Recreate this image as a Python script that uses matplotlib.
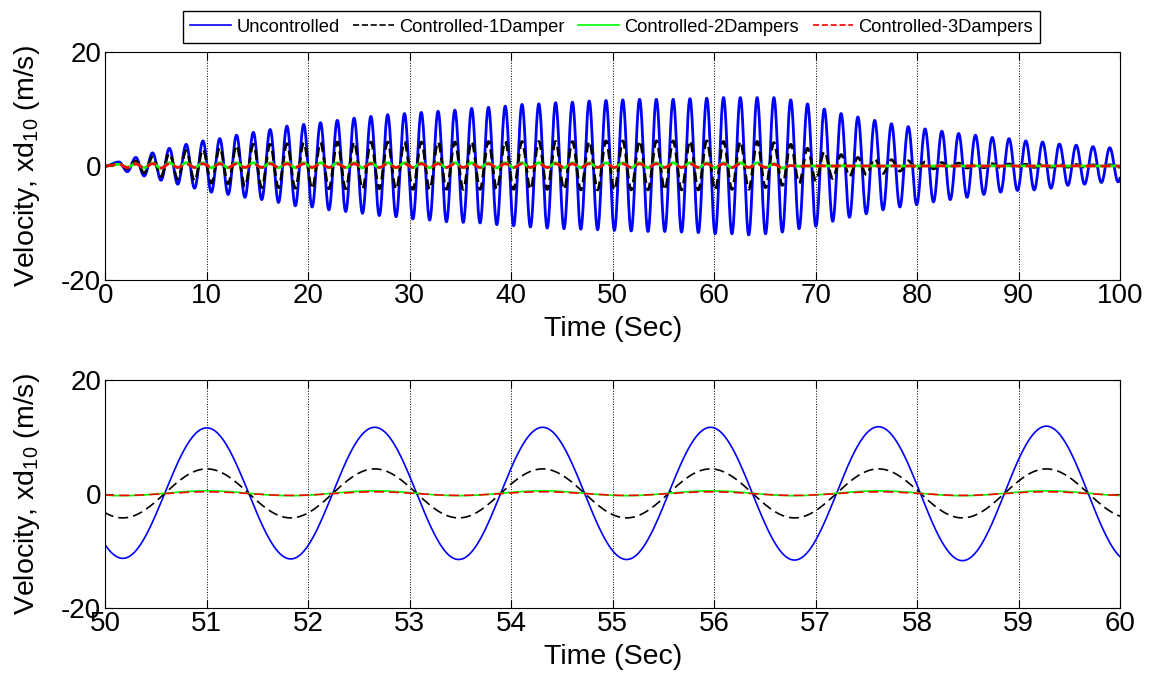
import numpy as np
import matplotlib
matplotlib.use('Agg')
import matplotlib.pyplot as plt
from matplotlib.ticker import MultipleLocator

# ---- data ----
# one oscillation period (s), time of a reference peak (s)
period = 1.655
t_peak0 = 1.35
t_end = 100.0

# peak values, one per cycle (peak times t_peak0 + k*period, k = 0..60)
blue_peaks = [0.7, 1.5, 2.3, 3.1, 3.8, 4.4, 4.8, 5.4, 5.9, 6.4,
              7.0, 7.3, 7.6, 8.0, 8.4, 8.7, 9.0, 9.2, 9.4, 9.6,
              9.8, 10.1, 10.3, 10.5, 10.8, 10.9, 11.1, 11.2, 11.4, 11.5,
              11.6, 11.7, 11.7, 11.7, 11.8, 11.9, 12.0, 12.0, 12.0, 12.0,
              11.6, 10.9, 10.0, 9.2, 8.6, 8.0, 7.4, 6.9, 6.5, 6.1,
              5.7, 5.4, 5.0, 4.8, 4.4, 4.2, 3.85, 3.65, 3.4, 3.2,
              3.0]
# trough values, one per cycle (half a period after each peak, k = 0..59)
blue_troughs = [-1.0, -1.75, -2.5, -3.2, -3.9, -4.6, -5.0, -5.5, -5.9, -6.4,
                -7.0, -7.2, -7.7, -8.0, -8.3, -8.7, -8.9, -9.3, -9.5, -9.8,
                -9.9, -10.0, -10.3, -10.5, -10.7, -10.9, -11.0, -11.1, -11.2, -11.3,
                -11.4, -11.5, -11.5, -11.6, -11.7, -11.9, -11.9, -12.1, -11.9, -11.6,
                -11.0, -10.6, -9.7, -9.0, -8.4, -7.7, -7.2, -6.8, -6.3, -5.9,
                -5.5, -5.0, -4.6, -4.3, -4.2, -3.9, -3.4, -3.2, -2.9, -2.8]

black_peaks = [0.4, 0.9, 1.6, 2.2, 2.7, 2.9, 3.2, 3.6, 3.8, 3.8,
               3.9, 4.1, 4.1, 4.2, 4.2, 4.2, 4.2, 4.2, 4.2, 4.2,
               4.2, 4.3, 4.3, 4.3, 4.3, 4.3, 4.3, 4.3, 4.3, 4.4,
               4.4, 4.4, 4.4, 4.4, 4.4, 4.4, 4.3, 4.3, 4.3, 4.1,
               3.8, 3.1, 2.5, 2.0, 1.5, 1.25, 1.1, 0.9, 0.7, 0.6,
               0.5, 0.45, 0.4, 0.35, 0.3, 0.3, 0.25, 0.25, 0.2, 0.2,
               0.2]
black_troughs = [-0.5, -1.2, -1.8, -2.3, -2.6, -3.0, -3.1, -3.6, -3.8, -3.8,
                 -3.9, -4.0, -4.0, -4.0, -4.0, -4.0, -4.1, -4.1, -4.1, -4.1,
                 -4.1, -4.1, -4.1, -4.1, -4.1, -4.1, -4.1, -4.2, -4.2, -4.2,
                 -4.2, -4.2, -4.2, -4.2, -4.2, -4.2, -4.1, -4.1, -3.8, -3.4,
                 -3.0, -2.6, -2.2, -1.8, -1.5, -1.3, -0.9, -0.65, -0.5, -0.4,
                 -0.35, -0.3, -0.25, -0.25, -0.25, -0.2, -0.2, -0.2, -0.2, -0.2]

green_peaks = [0.3, 0.4, 0.5] + [0.55] * 36 + [0.4, 0.1] + [0.03] * 20
green_troughs = [-0.2, -0.3, -0.4] + [-0.3] * 36 + [-0.35, -0.05] + [-0.02] * 19

red_peaks = [0.3, 0.35, 0.4] + [0.38] * 36 + [0.3, 0.05] + [0.02] * 20
red_troughs = [-0.3, -0.35, -0.35] + [-0.25] * 36 + [-0.3, -0.05] + [-0.02] * 19

labels = ['Uncontrolled', 'Controlled-1Damper', 'Controlled-2Dampers', 'Controlled-3Dampers']
colors = ['#0000FF', '#000000', '#00FF00', '#FF0000']
styles = ['-', '--', '-', '--']


def build_curve(peaks, troughs, t):
    # alternate peak / trough and join them with half cosine arcs
    ts = [0.0]
    vs = [0.0]
    for k in range(len(peaks)):
        ts.append(t_peak0 + k * period)
        vs.append(peaks[k])
        if k < len(troughs):
            ts.append(t_peak0 + k * period + period / 2)
            vs.append(troughs[k])
    ts = np.array(ts)
    vs = np.array(vs)
    idx = np.clip(np.searchsorted(ts, t, side='right') - 1, 0, len(ts) - 2)
    f = (t - ts[idx]) / (ts[idx + 1] - ts[idx])
    w = (1 - np.cos(np.pi * f)) / 2
    return vs[idx] + (vs[idx + 1] - vs[idx]) * w


t = np.arange(0, t_end + 0.005, 0.01)
series = [build_curve(blue_peaks, blue_troughs, t),
          build_curve(black_peaks, black_troughs, t),
          build_curve(green_peaks, green_troughs, t),
          build_curve(red_peaks, red_troughs, t)]

plt.rcParams['font.family'] = ['Liberation Sans', 'DejaVu Sans']
plt.rcParams['mathtext.default'] = 'regular'
plt.rcParams['axes.unicode_minus'] = False  # MATLAB style "-20"
plt.rcParams['axes.linewidth'] = 0.8

fig, axes = plt.subplots(2, 1, figsize=(11.52, 6.75), dpi=100)
plt.subplots_adjust(left=0.0914, right=0.9722, bottom=0.0993, top=0.923, hspace=0.4386)

# top: whole record, bottom: zoom 50-60 s
for ax, lw, xlim, xstep in zip(axes, [2.0, 1.2], [(0, 100), (50, 60)], [10, 1]):
    for y, c, ls, lab in zip(series, colors, styles, labels):
        line, = ax.plot(t, y, color=c, linestyle=ls, lw=lw, label=lab)
        if ls == '--':
            line.set_dashes([6 * 1.2 / lw, 3 * 1.2 / lw])
    ax.set_xlim(*xlim)
    ax.set_ylim(-20, 20)
    ax.xaxis.set_major_locator(MultipleLocator(xstep))
    ax.yaxis.set_major_locator(MultipleLocator(20))
    ax.grid(axis='x', linestyle=':', color='k', lw=0.7)
    ax.tick_params(direction='in', top=True, right=True, length=6, width=0.8,
                   labelsize=20)
    ax.tick_params(axis='x', pad=2)
    ax.tick_params(axis='y', pad=3)
    ax.set_xlabel('Time (Sec)', fontsize=20.5, labelpad=5)
    ax.set_ylabel('Velocity, xd$_{10}$ (m/s)', fontsize=20.5)
    ax.yaxis.set_label_coords(-0.062, 0.5)

handles = [plt.Line2D([], [], color=c, linestyle=ls, lw=1.2) for c, ls in zip(colors, styles)]
fig.legend(handles, labels, loc='center', bbox_to_anchor=(0.531, 0.96), ncol=4,
           fontsize=13.2, frameon=True, fancybox=False, edgecolor='k', framealpha=1,
           handlelength=2.2, handletextpad=0.3, columnspacing=0.75, borderpad=0.4)

plt.savefig('out.png', dpi=100)
